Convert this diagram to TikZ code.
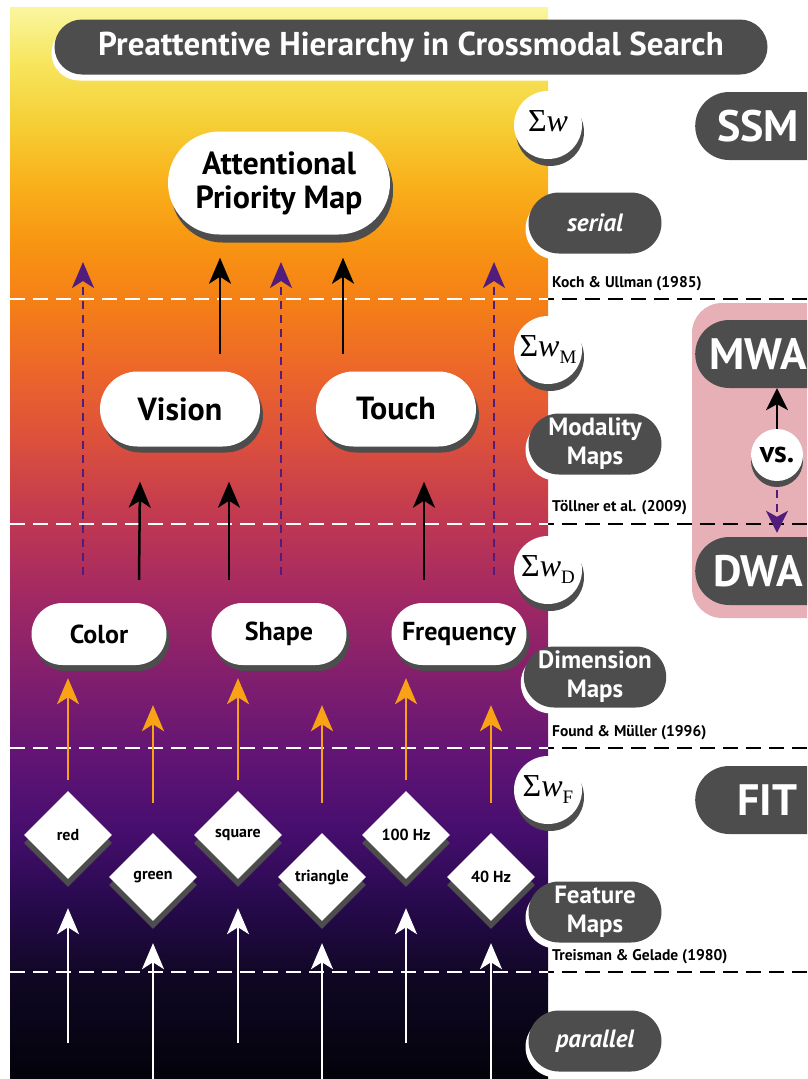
\documentclass[tikz,border=0pt]{standalone}
\usepackage[no-math]{fontspec}
\setmainfont{PT Sans}
\newfontfamily\sumfont{Liberation Serif}
\usetikzlibrary{arrows.meta,calc,shapes.geometric,shapes.misc,shadows,positioning}

\definecolor{pillgray}{RGB}{77,77,77}
\definecolor{shadowgray}{RGB}{77,77,77}
\definecolor{dashpurple}{RGB}{82,28,124}
\definecolor{arroworange}{RGB}{250,162,22}
\definecolor{pinkbox}{RGB}{231,176,183}
% gradient stops, top to bottom
\definecolor{g0}{RGB}{250,246,160}
\definecolor{g1}{RGB}{247,230,95}
\definecolor{g2}{RGB}{245,208,55}
\definecolor{g3}{RGB}{249,178,28}
\definecolor{g4}{RGB}{248,150,18}
\definecolor{g5}{RGB}{245,128,22}
\definecolor{g6}{RGB}{236,102,42}
\definecolor{g7}{RGB}{220,80,60}
\definecolor{g8}{RGB}{192,56,82}
\definecolor{g9}{RGB}{160,40,100}
\definecolor{g10}{RGB}{128,30,110}
\definecolor{g11}{RGB}{96,20,116}
\definecolor{g12}{RGB}{70,14,110}
\definecolor{g13}{RGB}{40,10,78}
\definecolor{g14}{RGB}{15,7,35}
\definecolor{g15}{RGB}{3,3,10}

\newcommand{\sumw}[1]{{\sumfont\fontsize{32}{32}\selectfont Σ\textit{w}\raisebox{-7pt}{\fontsize{19}{19}\selectfont #1}}}

\begin{document}
\begin{tikzpicture}[x=1pt,y=-1pt,
	>={Stealth[length=26pt,width=22pt,inset=7pt]},
	whitepill/.style={rounded rectangle, fill=white, text=black, align=center, inner sep=0pt,
		drop shadow={shadow xshift=3pt, shadow yshift=-6pt, fill=shadowgray, opacity=1}},
	graypill/.style={rounded rectangle, fill=pillgray, text=white, align=center, inner sep=0pt,
		minimum width=133pt, minimum height=61pt, font=\bfseries\fontsize{25}{29}\selectfont,
		drop shadow={shadow xshift=-3pt, shadow yshift=-6pt, fill=white, opacity=1}},
	sidepill/.style={rectangle, rounded corners=34pt, anchor=west, fill=pillgray, text=white,
		minimum height=68pt, inner xsep=18pt, text width=190pt, align=left,
		font=\bfseries\fontsize{44}{44}\selectfont},
	featbox/.style={diamond, aspect=1, fill=white, minimum width=88pt, minimum height=88pt, inner sep=0pt,
		font=\bfseries\fontsize{16}{16}\selectfont,
		drop shadow={shadow xshift=0pt, shadow yshift=-8pt, fill=shadowgray, opacity=1}},
	sumnode/.style={circle, fill=white, minimum size=68pt, inner sep=0pt,
		drop shadow={shadow xshift=2pt, shadow yshift=-7pt, fill=shadowgray, opacity=1}},
	refnote/.style={anchor=west, inner sep=0pt, font=\bfseries\fontsize{15.5}{15.5}\selectfont},
	levelline/.style={line width=2.5pt, dash pattern=on 15pt off 8pt},
	blackarr/.style={->, line width=2.5pt, black},
	orangearr/.style={->, line width=2.5pt, arroworange},
	whitearr/.style={->, line width=2.5pt, white},
	purplearr/.style={->, line width=2.2pt, dashpurple, dash pattern=on 8pt off 6pt}]

	\useasboundingbox (0,0) rectangle (807,1079);
	\clip (0,0) rectangle (807,1079);

	% background gradient
	\foreach \ya/\ca/\yb/\cb in {7/g0/60/g1, 60/g1/120/g2, 120/g2/180/g3, 180/g3/240/g4, 240/g4/300/g5,
		300/g5/370/g6, 370/g6/440/g7, 440/g7/520/g8, 520/g8/600/g9, 600/g9/680/g10, 680/g10/760/g11,
		760/g11/830/g12, 830/g12/900/g13, 900/g13/980/g14, 980/g14/1079/g15}
		\shade[top color=\ca, bottom color=\cb] (10,\ya) rectangle (548,\yb+0.6);

	\fill[pinkbox, rounded corners=30pt] (692,303) rectangle (860,618);

	% level lines
	\foreach \ly in {299,524,748,972}
		\draw[levelline, black] (10,\ly) -- (807,\ly);
	\begin{scope}
		\clip (10,7) rectangle (548,1079);
		\foreach \ly in {299,524,748,972}
			\draw[levelline, white] (10,\ly) -- (807,\ly);
	\end{scope}

	\node[refnote] (koch) at (552,284) {Koch \& Ullman (1985)};
	\node[refnote] (toellner) at (552,508) {Töllner et al. (2009)};
	\node[refnote] (found) at (552,733) {Found \& Müller (1996)};
	\node[refnote] (treisman) at (552,957) {Treisman \& Gelade (1980)};

	% title
	\node[graypill, minimum width=713pt, minimum height=55pt, font=\bfseries\fontsize{33}{33}\selectfont] (title) at (411,47) {Preattentive Hierarchy in Crossmodal Search};

	% maps
	\node[whitepill, minimum width=222pt, minimum height=103pt, font=\bfseries\fontsize{32}{34}\selectfont,
		drop shadow={shadow xshift=3pt, shadow yshift=-8pt, fill=shadowgray, opacity=1}] (apm) at (279,183) {Attentional\\Priority Map};

	\node[whitepill, minimum width=160pt, minimum height=75pt, font=\bfseries\fontsize{32}{32}\selectfont] (vision) at (180,409) {Vision};
	\node[whitepill, minimum width=160pt, minimum height=75pt, font=\bfseries\fontsize{32}{32}\selectfont] (touch) at (396,409) {Touch};

	\node[whitepill, minimum width=135pt, minimum height=62pt, font=\bfseries\fontsize{26}{26}\selectfont] (color) at (99,634) {Color};
	\node[whitepill, minimum width=135pt, minimum height=62pt, font=\bfseries\fontsize{26}{26}\selectfont] (shape) at (279,634) {Shape};
	\node[whitepill, minimum width=135pt, minimum height=62pt, font=\bfseries\fontsize{26}{26}\selectfont] (freq) at (459,634) {Frequency};

	\node[featbox] (red) at (68,835) {red};
	\node[featbox] (green) at (153,877) {green};
	\node[featbox] (square) at (238,835) {square};
	\node[featbox] (triangle) at (322,877) {triangle};
	\node[featbox] (hz100) at (406,835) {100 Hz};
	\node[featbox] (hz40) at (491,877) {40 Hz};

	% input arrows
	\coordinate (in-red) at (68,1043);
	\coordinate (in-green) at (153,1082);
	\coordinate (in-square) at (238,1043);
	\coordinate (in-triangle) at (322,1082);
	\coordinate (in-hz100) at (406,1043);
	\coordinate (in-hz40) at (491,1082);
	\foreach \f in {red,square,hz100}
		\draw[whitearr] (in-\f) -- ($(\f.south)+(0,29)$);
	\foreach \f in {green,triangle,hz40}
		\draw[whitearr] (in-\f) -- ($(\f.south)+(0,22)$);

	% features to dimensions
	\draw[orangearr] ($(red.north)+(0,-11)$) -- ($(red |- color.south)+(0,13)$);
	\draw[orangearr] ($(green.north)+(0,-30)$) -- ($(green |- color.south)+(0,40)$);
	\draw[orangearr] ($(square.north)+(0,-11)$) -- ($(square |- shape.south)+(0,13)$);
	\draw[orangearr] ($(triangle.north)+(0,-30)$) -- ($(triangle |- shape.south)+(0,40)$);
	\draw[orangearr] ($(hz100.north)+(0,-11)$) -- ($(hz100 |- freq.south)+(0,13)$);
	\draw[orangearr] ($(hz40.north)+(0,-30)$) -- ($(hz40 |- freq.south)+(0,40)$);

	% dimensions to modalities
	\draw[blackarr] ($(color.north)+(40,-23)$) -- ($(vision.south)+(-40,35)$);
	\draw[blackarr] ($(shape.north)+(-50,-23)$) -- ($(vision.south)+(49,35)$);
	\draw[blackarr] ($(freq.north)+(-35,-23)$) -- ($(touch.south)+(28,35)$);

	% modalities to priority map
	\draw[blackarr] ($(vision.north)+(40,-17)$) -- ($(apm.south)+(-59,23)$);
	\draw[blackarr] ($(touch.north)+(-53,-17)$) -- ($(apm.south)+(64,23)$);

	% dimensions straight to priority map
	\coordinate (top-color) at (83,262);
	\coordinate (top-shape) at (281,262);
	\coordinate (top-freq) at (494,262);
	\draw[purplearr] ($(color.north)+(-16,-28)$) -- (top-color);
	\draw[purplearr] ($(shape.north)+(2,-28)$) -- (top-shape);
	\draw[purplearr] ($(freq.north)+(35,-28)$) -- (top-freq);

	% weights
	\node[sumnode] (sumw) at (548,125) {\sumw{}};
	\node[sumnode] (sumwm) at (548,350) {\sumw{M}};
	\node[sumnode] (sumwd) at (548,570) {\sumw{D}};
	\node[sumnode] (sumwf) at (548,790) {\sumw{F}};

	\node[graypill, font=\bfseries\itshape\fontsize{25}{25}\selectfont] (serial) at (595,223) {serial};
	\node[graypill] (modmaps) at (595,444) {Modality\\Maps};
	\node[graypill] (dimmaps) at (595,677) {Dimension\\Maps};
	\node[graypill] (featmaps) at (595,912) {Feature\\Maps};
	\node[graypill, font=\bfseries\itshape\fontsize{25}{25}\selectfont] (parallel) at (595,1041) {parallel};

	% accounts
	\node[sidepill] (ssm) at (695,126) {\makebox[90pt]{SSM}};
	\node[sidepill] (mwa) at (695,354) {\makebox[90pt]{MWA}};
	\node[sidepill] (dwa) at (695,571) {\makebox[90pt]{DWA}};
	\node[sidepill] (fit) at (695,800) {\makebox[90pt]{\hspace*{18pt}FIT}};

	\node[circle, fill=white, minimum size=52pt, inner sep=0pt, font=\bfseries\fontsize{30}{30}\selectfont,
		drop shadow={shadow xshift=0pt, shadow yshift=-6pt, fill=shadowgray, opacity=1}] (vs) at (777,455) {vs.};
	\draw[blackarr, >={Stealth[length=22pt,width=22pt,inset=6pt]}] (vs.north) -- (vs |- mwa.south);
	\draw[purplearr, >={Stealth[length=22pt,width=22pt,inset=6pt]}] ($(vs.south)+(0,9)$) -- ($(vs |- dwa.north)+(0,-4)$);
\end{tikzpicture}
\end{document}
